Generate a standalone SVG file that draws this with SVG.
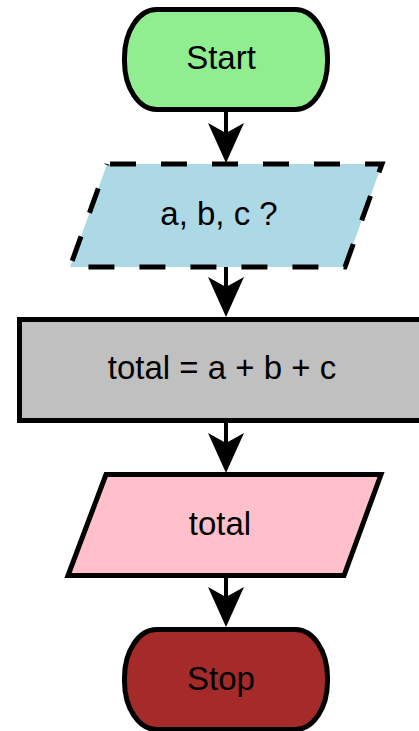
<svg xmlns="http://www.w3.org/2000/svg" width="419" height="731" viewBox="0 0 419 731">
<style>
.s{stroke:#000;stroke-width:5;stroke-linejoin:miter}
.t{font-family:"Liberation Sans",Arial,sans-serif;font-size:33px;fill:#000;text-anchor:middle}
.c line{stroke:#000;stroke-width:4}
.c path{fill:#000}
</style>
<rect width="419" height="731" fill="#fff"/>
<g class="c" id="connectors">
<line x1="226" y1="111" x2="226" y2="135"/>
<path d="M226,163 L208,123 L226,133 L244,123 Z"/>
<line x1="226" y1="267" x2="226" y2="289"/>
<path d="M226,317 L208,277 L226,287 L244,277 Z"/>
<line x1="226" y1="422" x2="226" y2="445"/>
<path d="M226,473 L208,433 L226,443 L244,433 Z"/>
<line x1="226" y1="577" x2="226" y2="599"/>
<path d="M226,627 L208,587 L226,597 L244,587 Z"/>
</g>
<g id="start">
<rect class="s" x="124.5" y="9.5" width="203" height="100" rx="32" ry="48" fill="#90EE90"/>
<text class="t" x="221" y="69">Start</text>
</g>
<g id="input">
<path d="M107,164 L382,164 L345,267 L70,267 Z" fill="#ADD8E6" stroke="#000" stroke-width="5" stroke-dasharray="26 25" stroke-dashoffset="48"/>
<text class="t" x="219" y="224.5">a, b, c ?</text>
</g>
<g id="process">
<rect class="s" x="19.5" y="319.5" width="413" height="101" fill="#C0C0C0"/>
<text class="t" x="222" y="379">total = a + b + c</text>
</g>
<g id="output">
<path class="s" d="M106,474.5 L381,474.5 L344,575.5 L68,575.5 Z" fill="#FFC0CB"/>
<text class="t" x="220" y="534.5">total</text>
</g>
<g id="stop">
<rect class="s" x="124.5" y="629.5" width="203" height="100" rx="32" ry="48" fill="#A52A2A"/>
<text class="t" x="221" y="689.5">Stop</text>
</g>
</svg>
